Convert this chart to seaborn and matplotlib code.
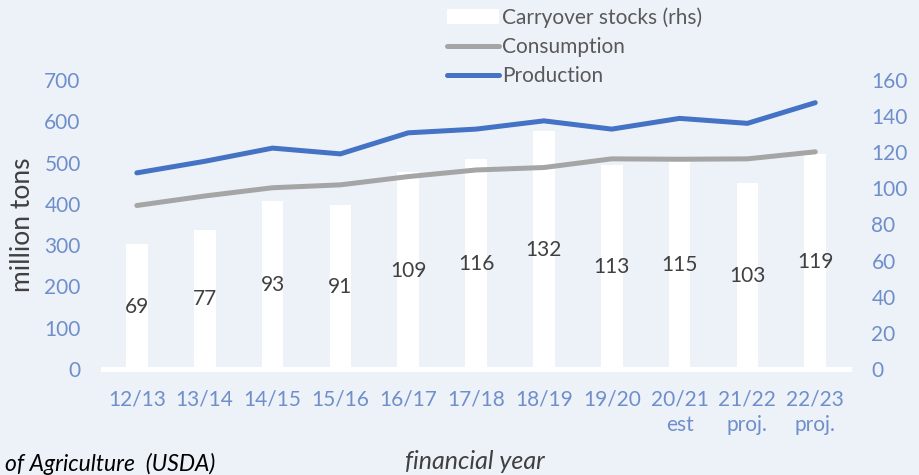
import matplotlib
matplotlib.use("Agg")
import matplotlib.pyplot as plt
import numpy as np
import pandas as pd
import seaborn as sns
from matplotlib.lines import Line2D
from matplotlib.patches import Patch

# Data
years = ["12/13", "13/14", "14/15", "15/16", "16/17", "17/18",
         "18/19", "19/20", "20/21\nest", "21/22\nproj.", "22/23\nproj."]
carryover = [69, 77, 93, 91, 109, 116, 132, 113, 115, 103, 119]          # rhs
consumption = [396, 419, 439, 446, 466, 482, 488, 509, 508, 509, 526]   # lhs
production = [475, 503, 535, 521, 572, 581, 601, 581, 607, 595, 645]    # lhs

BG = "#EDF1F8"
TICK_BLUE = "#6F8FCB"
BLUE = "#4472C4"
GREY = "#A5A5A5"
DARK = "#404040"
FS = 15

sns.set_theme(style="white")
plt.rcParams["font.family"] = ["Lato", "DejaVu Sans"]
plt.rcParams["font.size"] = FS

df = pd.DataFrame({"year": years, "carryover": carryover,
                   "consumption": consumption, "production": production,
                   "pos": np.arange(len(years))})

fig = plt.figure(figsize=(9.19, 4.75), dpi=100, facecolor=BG)
ax = fig.add_axes([0.112, 0.2232, 0.812, 0.6084])
ax.set_facecolor("none")

# bars on the right-hand scale
sns.barplot(data=df, x="year", y="carryover", color="white", width=0.32,
            saturation=1, edgecolor="none", ax=ax)
ax.set_ylim(0, 160)
ax.set_xlim(-0.5, len(years) - 0.5)
ax.set_yticks(range(0, 161, 20))
ax.set_ylabel("")
ax.set_xlabel("")
for i, v in enumerate(carryover):
    ax.text(i, v / 2, str(v), ha="center", va="center", color=DARK, fontsize=FS)

# lines on the left-hand scale (twin axes drawn on top)
ax2 = ax.twinx()
sns.lineplot(data=df, x="pos", y="consumption", color=GREY, lw=3.6,
             solid_capstyle="round", ax=ax2)
sns.lineplot(data=df, x="pos", y="production", color=BLUE, lw=3.6,
             solid_capstyle="round", ax=ax2)
ax2.set_ylim(0, 700)
ax2.set_yticks(range(0, 701, 100))
ax2.set_xlabel("")
ax2.set_ylabel("")
ax.yaxis.tick_right()
ax2.yaxis.tick_left()

for a in (ax, ax2):
    for s in a.spines.values():
        s.set_visible(False)
    a.tick_params(axis="both", length=0, colors=TICK_BLUE, labelsize=FS)
    a.tick_params(axis="y", pad=16)
ax.tick_params(axis="x", pad=15)
for t in ax.get_xticklabels():
    t.set_linespacing(1.3)
    t.set_verticalalignment("top")
ax.spines["bottom"].set_visible(True)
ax.spines["bottom"].set_color("white")
ax.spines["bottom"].set_linewidth(3.6)
ax.spines["bottom"].set_zorder(5)

fig.text(0.025, 0.527, "million tons", rotation=90, ha="center", va="center",
         color=DARK, fontsize=19)
fig.text(0.517, 0.029, "financial year", ha="center", va="center",
         style="italic", color=DARK, fontsize=18)
fig.text(0.005, 0.024, "of Agriculture  (USDA)", ha="left", va="center",
         style="italic", color="black", fontsize=16.5)

handles = [Patch(facecolor="white", edgecolor="none"),
           Line2D([], [], color=GREY, lw=3.6, solid_capstyle="round"),
           Line2D([], [], color=BLUE, lw=3.6, solid_capstyle="round")]
labels = ["Carryover stocks (rhs)", "Consumption", "Production"]
fig.legend(handles, labels, loc="upper left", bbox_to_anchor=(0.486, 0.985),
           frameon=False, fontsize=FS, handlelength=2.5, handleheight=0.75,
           handletextpad=0.15, labelspacing=0.45, labelcolor="#595959",
           borderaxespad=0.0, borderpad=0.0)

fig.savefig("out.png", dpi=100, facecolor=BG)
